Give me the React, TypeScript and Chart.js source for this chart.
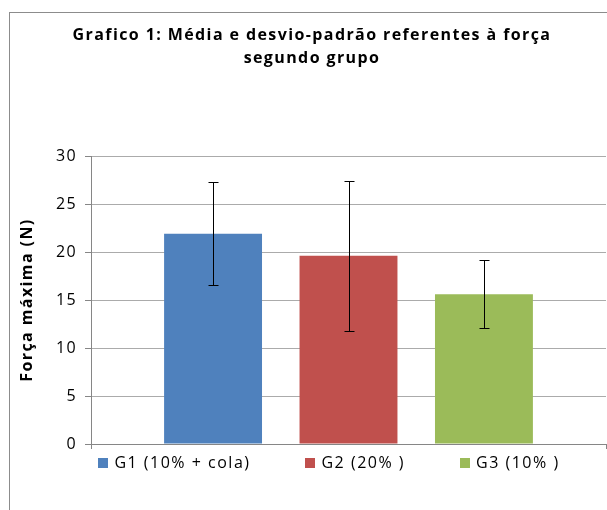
import React, { useEffect, useRef } from 'react';
import { Chart, registerables } from 'chart.js';

Chart.register(...registerables);

// ---- data ----
const titleLines = ['Grafico 1: Média e desvio-padrão referentes à força', 'segundo grupo'];
const yAxisTitle = 'Força máxima (N)';
const groups = ['G1 (10% + cola)', 'G2 (20% )', 'G3 (10% )'];
const means = [21.9, 19.6, 15.6];
const sds = [5.35, 7.85, 3.55];
const colors = ['#4F81BD', '#C0504D', '#9BBB59'];
const yTicks = [0, 5, 10, 15, 20, 25, 30];

// ---- style constants ----
const FONT = "'Open Sans', sans-serif";
const SPACING = '1.4px';
const LEG_CX = 329;
const LEG_Y = 463;
const LEG_BOX = 10;
const LEG_BOX_GAP = 6;
const LEG_GAP = 55;

const spacingPlugin = {
  id: 'letterSpacing',
  beforeDraw(chart: any) {
    try {
      (chart.ctx as any).letterSpacing = SPACING;
    } catch (e) {}
  },
};

const errorBarPlugin = {
  id: 'errorBars',
  afterDatasetsDraw(chart: any) {
    const { ctx, scales } = chart;
    const y = scales.y;
    ctx.save();
    ctx.strokeStyle = '#000';
    ctx.lineWidth = 1;
    chart.data.datasets.forEach((ds: any, i: number) => {
      const meta = chart.getDatasetMeta(i);
      meta.data.forEach((bar: any, j: number) => {
        const m = ds.data[j];
        const s = sds[i];
        const x = Math.round(bar.x) + 0.5;
        const top = Math.round(y.getPixelForValue(m + s)) + 0.5;
        const bot = Math.round(y.getPixelForValue(m - s)) + 0.5;
        ctx.beginPath();
        ctx.moveTo(x, top);
        ctx.lineTo(x, bot);
        ctx.moveTo(x - 5, top);
        ctx.lineTo(x + 5, top);
        ctx.moveTo(x - 5, bot);
        ctx.lineTo(x + 5, bot);
        ctx.stroke();
      });
    });
    ctx.restore();
  },
};

const legendPlugin = {
  id: 'bottomLegend',
  afterDraw(chart: any) {
    const ctx = chart.ctx;
    ctx.save();
    try {
      ctx.letterSpacing = '1.5px';
    } catch (e) {}
    ctx.font = `16px ${FONT}`;
    ctx.textBaseline = 'middle';
    ctx.textAlign = 'left';
    const items = chart.data.datasets.map((ds: any) => ({
      text: ds.label,
      color: ds.backgroundColor,
      w: ctx.measureText(ds.label).width,
    }));
    const total =
      items.reduce((a: number, it: any) => a + LEG_BOX + LEG_BOX_GAP + it.w, 0) +
      LEG_GAP * (items.length - 1);
    let x = LEG_CX - total / 2;
    items.forEach((it: any) => {
      ctx.fillStyle = it.color;
      ctx.fillRect(Math.round(x), LEG_Y - LEG_BOX / 2, LEG_BOX, LEG_BOX);
      ctx.fillStyle = '#000';
      ctx.fillText(it.text, x + LEG_BOX + LEG_BOX_GAP, LEG_Y);
      x += LEG_BOX + LEG_BOX_GAP + it.w + LEG_GAP;
    });
    ctx.restore();
  },
};

export default function App() {
  const ref = useRef<HTMLCanvasElement>(null);

  useEffect(() => {
    if (!ref.current) return;
    const chart = new Chart(ref.current, {
      type: 'bar',
      data: {
        labels: [''],
        datasets: groups.map((g, i) => ({
          label: g,
          data: [means[i]],
          backgroundColor: colors[i],
          borderWidth: 0,
          categoryPercentage: 0.789,
          barPercentage: 0.723,
        })),
      },
      options: {
        responsive: false,
        animation: false,
        devicePixelRatio: 1,
        layout: { padding: { left: 18, right: 1, top: 0, bottom: 61 } },
        plugins: {
          legend: { display: false },
          tooltip: { enabled: false },
          title: {
            display: true,
            text: titleLines,
            color: '#000',
            font: { family: FONT, size: 16, weight: 'bold', lineHeight: 1.42 },
            padding: { top: 24, bottom: 86.6 },
          },
        },
        scales: {
          x: {
            type: 'category',
            offset: true,
            grid: {
              display: true,
              drawOnChartArea: false,
              drawTicks: true,
              tickLength: 5,
              offset: true,
              color: '#868686',
              tickColor: '#868686',
            },
            border: { display: true, color: '#868686' },
            ticks: { display: false },
          },
          y: {
            min: yTicks[0],
            max: yTicks[yTicks.length - 1],
            afterFit: (scale: any) => {
              scale.width = 73;
            },
            ticks: {
              stepSize: yTicks[1] - yTicks[0],
              color: '#000',
              padding: 8,
              font: { family: FONT, size: 16 },
            },
            grid: {
              color: '#ababab',
              tickColor: '#868686',
              tickLength: 6,
              drawTicks: true,
            },
            border: { display: true, color: '#868686' },
            title: {
              display: true,
              text: yAxisTitle,
              color: '#000',
              font: { family: FONT, size: 16, weight: 'bold', lineHeight: 1.2 },
              padding: { top: 0, bottom: 0 },
            },
          },
        },
      },
      plugins: [spacingPlugin, errorBarPlugin, legendPlugin],
    } as any);
    return () => chart.destroy();
  }, []);

  return (
    <div
      style={{
        position: 'absolute',
        left: 0,
        top: 0,
        width: 607,
        height: 510,
        overflow: 'hidden',
        background: '#fff',
      }}
    >
      <div
        style={{
          position: 'absolute',
          left: 9,
          top: 12,
          width: 700,
          height: 600,
          border: '1px solid #8c8c8c',
          boxSizing: 'border-box',
        }}
      />
      <canvas
        ref={ref}
        width={607}
        height={510}
        style={{ position: 'absolute', left: 0, top: 0, width: 607, height: 510 }}
      />
    </div>
  );
}
